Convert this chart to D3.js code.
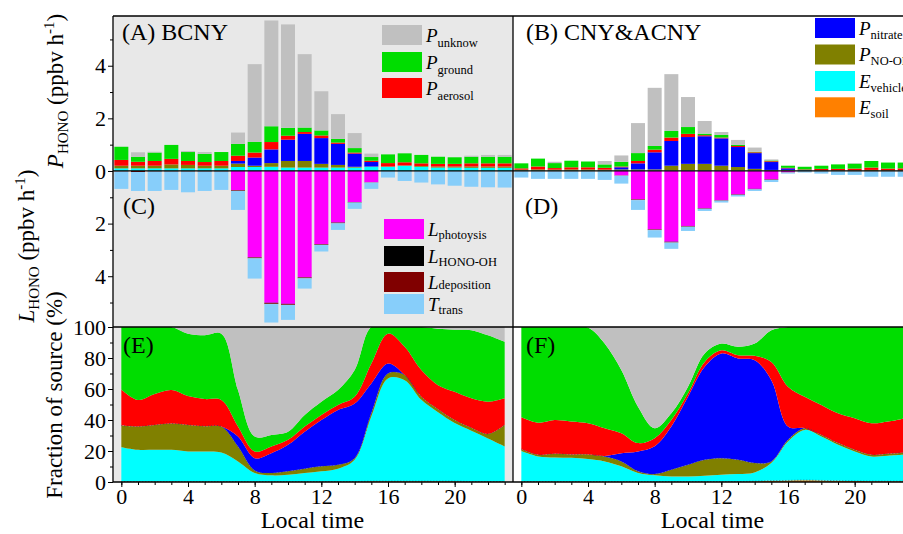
<!DOCTYPE html>
<html>
<head>
<meta charset="utf-8">
<script src="https://cdn.jsdelivr.net/npm/d3@7"></script>
<style>
body { margin: 0; background: #fff; }
svg { display: block; font-family: "Liberation Serif", "Times New Roman", serif; }
</style>
</head>
<body>
<div id="chart"></div>
<script>
// hours of the day
var hours = [0,1,2,3,4,5,6,7,8,9,10,11,12,13,14,15,16,17,18,19,20,21,22,23];

// (A) BCNY production rates, ppbv h-1
var aSoil    = [0,0,0,0,0,0,0,0,0,0,0,0,0,0,0,0,0,0,0,0,0,0,0,0];
var aVehicle = [0.10,0.10,0.10,0.10,0.10,0.10,0.10,0.15,0.15,0.16,0.13,0.13,0.13,0.13,0.13,0.16,0.16,0.20,0.16,0.13,0.13,0.12,0.12,0.12];
var aNoOH    = [0.10,0.10,0.10,0.15,0.13,0.10,0.10,0.13,0.05,0.14,0.25,0.25,0.14,0.10,0.03,0.01,0.01,0.01,0.03,0.04,0.04,0.05,0.05,0.05];
var aNitrate = [0,0,0,0,0,0,0,0.10,0.31,0.52,0.81,1.03,0.98,0.80,0.50,0.17,0,0,0,0,0,0,0,0];
var aAerosol = [0.22,0.15,0.18,0.21,0.15,0.14,0.18,0.20,0.19,0.28,0.15,0.07,0.10,0.05,0.04,0.05,0.13,0.12,0.10,0.10,0.10,0.12,0.12,0.12];
var aGround  = [0.50,0.19,0.32,0.53,0.34,0.31,0.34,0.45,0.41,0.60,0.30,0.17,0.19,0.14,0.17,0.14,0.33,0.34,0.32,0.27,0.25,0.25,0.25,0.25];
var aUnknow  = [0,0.17,0.03,0,0.04,0.07,0,0.43,2.95,4.02,3.93,2.79,1.49,0.94,0.57,0.13,0,0,0,0,0,0.04,0.07,0.07];
// (C) BCNY loss rates
var aPhoto   = [0,0,0,0,0,0,0,0.73,3.28,5.01,5.05,4.04,2.78,1.96,1.18,0.43,0,0,0,0,0,0,0,0];
var aHonoOH  = [0,0,0,0,0,0,0,0.01,0.01,0.02,0.01,0.01,0.01,0.01,0.01,0,0,0,0,0,0,0,0,0];
var aDepo    = [0.02,0.04,0.02,0.02,0.02,0.02,0.02,0.02,0.03,0.03,0.03,0.03,0.02,0.02,0.01,0.01,0.01,0.01,0.01,0.01,0.01,0.01,0.01,0.01];
var aTrans   = [0.66,0.72,0.74,0.70,0.79,0.74,0.70,0.72,0.77,0.70,0.57,0.39,0.25,0.25,0.24,0.24,0.24,0.37,0.43,0.50,0.55,0.59,0.61,0.62];

// (B) CNY&ACNY production rates
var bSoil    = [0,0,0,0,0,0,0,0,0,0,0,0,0,0,0,0,0,0,0,0,0,0,0,0];
var bVehicle = [0.02,0.02,0.02,0.02,0.02,0.02,0.02,0.02,0.02,0.02,0.02,0.02,0.02,0.02,0.02,0.02,0.02,0.02,0.01,0.01,0.01,0.01,0.01,0.01];
var bNoOH    = [0.03,0.04,0.03,0.04,0.04,0.03,0.04,0.04,0.04,0.18,0.25,0.25,0.18,0.13,0.06,0.02,0.02,0.01,0.02,0.02,0.02,0.03,0.02,0.02];
var bNitrate = [0,0,0,0,0,0,0.08,0.23,0.65,0.94,1.02,1.05,1.04,0.76,0.60,0.30,0.06,0.01,0,0,0,0,0,0];
var bAerosol = [0.05,0.11,0.06,0.08,0.08,0.07,0.03,0.09,0.10,0.13,0.12,0.04,0.03,0.04,0.03,0.03,0.02,0.02,0.05,0.05,0.06,0.09,0.06,0.07];
var bGround  = [0.19,0.30,0.19,0.25,0.22,0.13,0.18,0.30,0.14,0.25,0.26,0.06,0.10,0.04,0.02,0.03,0.08,0.10,0.12,0.17,0.19,0.25,0.23,0.22];
var bUnknow  = [0,0,0.05,0,0,0.13,0.24,1.14,2.21,2.16,1.14,0.48,0.11,0.19,0.16,0.04,0,0,0,0,0.02,0,0,0];
// (D) CNY&ACNY loss rates
var bPhoto   = [0,0,0,0,0,0,0.17,1.08,2.22,2.69,2.09,1.42,1.11,0.89,0.68,0.32,0.05,0,0,0,0,0,0,0];
var bHonoOH  = [0,0,0,0,0,0,0,0.01,0.01,0.01,0.01,0.01,0.01,0.01,0.01,0.01,0,0,0,0,0,0,0,0];
var bDepo    = [0.01,0.01,0.01,0.01,0.01,0.01,0.01,0.02,0.02,0.02,0.02,0.01,0.01,0.01,0.01,0.01,0.01,0.01,0.01,0.01,0.01,0.01,0.01,0.01];
var bTrans   = [0.24,0.29,0.29,0.29,0.29,0.33,0.30,0.37,0.28,0.24,0.16,0.08,0.07,0.06,0.06,0.08,0.04,0.05,0.09,0.14,0.14,0.21,0.21,0.21];

// (E) BCNY fraction of source, %
var eSoil    = [0.3,0.3,0.3,0.3,0.3,0.3,0.3,0.3,0.3,0.3,0.3,0.3,0.3,0.3,0.3,0.5,0.5,0.5,0.5,0.5,0.5,0.3,0.3,0.3];
var eVehicle = [22.2,20.5,20.5,20.5,19.4,19.4,18.7,13.0,5.5,4.0,4.4,5.5,6.6,8.3,14.0,41.7,66.3,65.2,52.5,44.5,37.5,32.7,27.7,22.6];
var eNoOH    = [13.9,15.0,16.0,16.9,17.1,16.3,16.8,9.6,1.7,1.5,2.2,2.8,3.2,2.5,1.1,2.1,3.2,3.3,2.0,2.0,2.0,2.0,3.0,13.9];
var eNitrate = [0,0,0,0,0,0,0,6.4,7.9,12.8,17.1,23.9,29.9,35.4,35.3,19.3,6.4,0,0,0,0,0,0,0];
var eAerosol = [23.3,17.1,19.9,21.6,18.7,17.5,17.1,6.5,4.3,4.3,3.2,3.3,3.3,3.2,4.3,12.8,19.3,18.2,17.2,15.5,18.2,19.0,20.8,17.2];
var eGround  = [40.3,47.1,43.3,40.7,40.2,41.1,42.8,23.5,9.6,7.5,5.3,7.5,8.5,9.6,17.2,23.6,4.3,12.8,27.8,36.4,40.1,43.9,42.8,36.4];
var eUnknow  = [0,0,0,0,4.3,5.4,4.3,40.7,70.7,69.6,67.5,56.7,48.2,40.7,27.8,0,0,0,0,1.1,1.7,2.1,5.4,9.6];

// (F) CNY&ACNY fraction of source, %
var fSoil    = [0.3,0.3,0.3,0.3,0.3,0.3,0.3,0.3,0.3,0.3,0.3,0.3,0.3,0.3,0.5,0.8,1.0,1.2,1.0,0.8,0.6,0.5,0.5,0.5];
var fVehicle = [19.7,16.2,15.5,15.3,14.5,13.0,9.8,5.5,4.0,3.3,3.3,3.8,4.4,4.8,5.7,11.4,25.1,32.4,28.3,23.2,19.1,16.0,16.5,17.1];
var fNoOH    = [1.2,1.1,2.4,2.2,3.0,3.2,3.2,1.1,0.8,4.3,7.5,10.2,10.7,9.2,6.0,1.1,1.1,1.1,1.1,1.1,1.1,1.1,1.2,1.4];
var fNitrate = [0,0,0,0,0,0.3,5.3,12.8,17.9,27.9,43.9,60.0,67.5,65.4,66.4,52.4,8.6,0,0,0,0,0,0,0];
var fAerosol = [20.6,20.7,21.8,21.2,20.1,17.9,12.9,5.4,5.3,4.2,2.2,3.2,2.1,2.1,2.8,11.8,25.7,20.3,19.3,19.2,20.3,20.3,20.8,22.1];
var fGround  = [58.2,61.7,60.0,61.0,61.7,54.6,40.7,23.5,6.4,4.3,4.3,5.4,4.3,5.4,7.9,20.4,38.5,45.0,50.3,55.7,58.9,62.1,61.0,58.9];
var fUnknow  = [0,0,0,0,0.4,10.7,27.8,51.4,65.3,55.7,38.5,17.1,10.7,12.8,10.7,2.1,0,0,0,0,0,0,0,0];

// axis ticks
var rateTicks = [-4,-2,0,2,4];
var rateMinor = [-5,-3,-1,1,3,5];
var fracTicks = [0,20,40,60,80,100];
var fracMinor = [10,30,50,70,90];
var hourTicks = [0,4,8,12,16,20];

var prodKeys = ["soil","vehicle","noOH","nitrate","aerosol","ground","unknow"];
var lossKeys = ["photo","honoOH","depo","trans"];
var colors = {
    soil: "#ff8000", vehicle: "#00ffff", noOH: "#808000", nitrate: "#0000ff",
    aerosol: "#ff0000", ground: "#00dd00", unknow: "#c0c0c0",
    photo: "#ff00ff", honoOH: "#000000", depo: "#800000", trans: "#87cefa"
};

//build table rows for d3.stack
function rows(arrs, keys) {
    return hours.map(function(h, i) {
        var r = {hour: h};
        keys.forEach(function(k, j) { r[k] = arrs[j][i]; });
        return r;
    });
}

var svgwidth = 903, svgheight = 534;
var svg = d3.select("#chart").append("svg")
    .attr("width", svgwidth)
    .attr("height", svgheight);

var xA = d3.scaleLinear().domain([-0.5, 23.5]).range([113, 513]);
var xB = d3.scaleLinear().domain([-0.5, 23.5]).range([513, 913]);
var yTop = d3.scaleLinear().domain([-5.93, 5.89]).range([327, 16]);
var yBot = d3.scaleLinear().domain([0, 100]).range([482, 327]);

//clip for the fraction panels
svg.append("clipPath").attr("id", "botclip")
    .append("rect").attr("x", 113).attr("y", 327).attr("width", 790).attr("height", 155);

//gray background of the left panels
svg.append("rect").attr("x", 113).attr("y", 16).attr("width", 400).attr("height", 466).attr("fill", "#e8e8e8");

//stacked bars: production up, loss down
function drawBars(x, prod, loss) {
    var g = svg.append("g");
    var barW = 14;
    d3.stack().keys(prodKeys)(prod).forEach(function(s) {
        g.append("g").selectAll("rect").data(s).join("rect")
            .attr("x", d => x(d.data.hour) - barW / 2)
            .attr("width", barW)
            .attr("y", d => yTop(d[1]))
            .attr("height", d => yTop(d[0]) - yTop(d[1]))
            .attr("fill", colors[s.key]);
    });
    d3.stack().keys(lossKeys)(loss).forEach(function(s) {
        g.append("g").selectAll("rect").data(s).join("rect")
            .attr("x", d => x(d.data.hour) - barW / 2)
            .attr("width", barW)
            .attr("y", d => yTop(-d[0]))
            .attr("height", d => yTop(-d[1]) - yTop(-d[0]))
            .attr("fill", colors[s.key]);
    });
}

//stacked smoothed areas for source fractions
function drawAreas(x, fr) {
    var g = svg.append("g").attr("clip-path", "url(#botclip)");
    var st = d3.stack().keys(prodKeys)(fr);
    var curve = d3.curveCatmullRom.alpha(0.5);
    var area = d3.area()
        .x(d => x(d.data.hour))
        .y0(d => yBot(d[0]))
        .y1(d => yBot(d[1]))
        .curve(curve);
    g.selectAll("path").data(st).join("path")
        .attr("d", area)
        .attr("fill", d => colors[d.key]);
    var line = d3.line().x(d => x(d.data.hour)).y(d => yBot(d[1])).curve(curve);
    g.selectAll(".dots").data([st[0], st[2]]).join("path")
        .attr("d", line)
        .attr("fill", "none")
        .attr("stroke", "#404060")
        .attr("stroke-width", 0.8)
        .attr("stroke-dasharray", "1,2");
}

drawBars(xA,
    rows([aSoil, aVehicle, aNoOH, aNitrate, aAerosol, aGround, aUnknow], prodKeys),
    rows([aPhoto, aHonoOH, aDepo, aTrans], lossKeys));
drawBars(xB,
    rows([bSoil, bVehicle, bNoOH, bNitrate, bAerosol, bGround, bUnknow], prodKeys),
    rows([bPhoto, bHonoOH, bDepo, bTrans], lossKeys));
drawAreas(xA, rows([eSoil, eVehicle, eNoOH, eNitrate, eAerosol, eGround, eUnknow], prodKeys));
drawAreas(xB, rows([fSoil, fVehicle, fNoOH, fNitrate, fAerosol, fGround, fUnknow], prodKeys));

//frame lines
var frame = svg.append("g").attr("stroke", "#000").attr("stroke-width", 1.3);
[16, yTop(0), 327, 482].forEach(function(y) {
    frame.append("line").attr("x1", 113).attr("x2", 903).attr("y1", y).attr("y2", y);
});
[113, 513].forEach(function(x) {
    frame.append("line").attr("x1", x).attr("x2", x).attr("y1", 16).attr("y2", 482);
});

//axes
function styleAxis(g, size) {
    g.attr("font-family", null).attr("font-size", size);
    g.select(".domain").remove();
    return g;
}
styleAxis(svg.append("g").attr("transform", "translate(113,0)")
    .call(d3.axisLeft(yTop).tickValues(rateTicks).tickFormat(d => Math.abs(d)).tickSize(5).tickPadding(2)), 22);
styleAxis(svg.append("g").attr("transform", "translate(113,0)")
    .call(d3.axisLeft(yTop).tickValues(rateMinor).tickFormat("").tickSize(3)), 22);
styleAxis(svg.append("g").attr("transform", "translate(113,0)")
    .call(d3.axisLeft(yBot).tickValues(fracTicks).tickSize(5).tickPadding(2)), 22);
styleAxis(svg.append("g").attr("transform", "translate(113,0)")
    .call(d3.axisLeft(yBot).tickValues(fracMinor).tickFormat("").tickSize(3)), 22);
[xA, xB].forEach(function(x) {
    styleAxis(svg.append("g").attr("transform", "translate(0,482)")
        .call(d3.axisBottom(x).tickValues(hourTicks).tickSize(5).tickPadding(1)), 22);
    styleAxis(svg.append("g").attr("transform", "translate(0,482)")
        .call(d3.axisBottom(x).tickValues(hours).tickFormat("").tickSize(3)), 22);
});

//text with italic letters, subscripts and superscripts
function richText(g, parts, size, subSize, subShift, supShift) {
    var t = g.append("text").attr("font-size", size);
    var cur = 0;
    parts.forEach(function(p) {
        var target = p.sub ? subShift : (p.sup ? -supShift : 0);
        var ts = t.append("tspan").text(p.t).attr("dy", target - cur);
        if (p.sub || p.sup) ts.attr("font-size", subSize);
        if (p.it) ts.attr("font-style", "italic");
        cur = target;
    });
    return t;
}

//axis titles
function yTitle(x, y, parts) {
    var g = svg.append("g").attr("transform", `translate(${x},${y}) rotate(-90)`);
    richText(g, parts, 23, 15, 5, 9).attr("text-anchor", "middle");
}
yTitle(63, 91, [{t: "P", it: true}, {t: "HONO", sub: true}, {t: " (ppbv h"}, {t: "-1", sup: true}, {t: ")"}]);
yTitle(34, 246, [{t: "L", it: true}, {t: "HONO", sub: true}, {t: " (ppbv h"}, {t: "-1", sup: true}, {t: ")"}]);
yTitle(62, 395, [{t: "Fraction of source (%)"}]);

svg.selectAll(".xtitle").data([xA, xB]).join("text")
    .attr("x", d => (d(0) + d(23)) / 2 - 0.5)
    .attr("y", 528)
    .attr("text-anchor", "middle")
    .attr("font-size", 24)
    .text("Local time");

//panel letters
var panelLabels = ["(A) BCNY", "(B) CNY&ACNY", "(C)", "(D)", "(E)", "(F)"];
var panelPos = [[122, 40], [526, 40], [123, 214], [525, 214], [123, 353], [526, 353]];
svg.selectAll(".plab").data(panelLabels).join("text")
    .attr("x", (d, i) => panelPos[i][0])
    .attr("y", (d, i) => panelPos[i][1])
    .attr("font-size", 24)
    .text(d => d);

//legends
function legend(x0, tops, items) {
    items.forEach(function(it, i) {
        svg.append("rect").attr("x", x0).attr("y", tops[i]).attr("width", 40).attr("height", 20)
            .attr("fill", colors[it.key]);
        var g = svg.append("g").attr("transform", `translate(${x0 + 44},${tops[i] + 16.5})`);
        richText(g, [{t: it.main, it: true}, {t: it.sub, sub: true}], 19, 12.5, it.shift, 0);
    });
}
legend(382, [25, 52, 78], [
    {key: "unknow", main: "P", sub: "unknow", shift: 5},
    {key: "ground", main: "P", sub: "ground", shift: 5},
    {key: "aerosol", main: "P", sub: "aerosol", shift: 5}]);
legend(384, [219, 246, 272, 294], [
    {key: "photo", main: "L", sub: "photoysis", shift: 3},
    {key: "honoOH", main: "L", sub: "HONO-OH", shift: 3},
    {key: "depo", main: "L", sub: "deposition", shift: 0},
    {key: "trans", main: "T", sub: "trans", shift: 3}]);
legend(815, [18, 44.5, 71, 97.3], [
    {key: "nitrate", main: "P", sub: "nitrate", shift: 4},
    {key: "noOH", main: "P", sub: "NO-OH", shift: 4},
    {key: "vehicle", main: "E", sub: "vehicle", shift: 4},
    {key: "soil", main: "E", sub: "soil", shift: 4}]);
</script>
</body>
</html>
